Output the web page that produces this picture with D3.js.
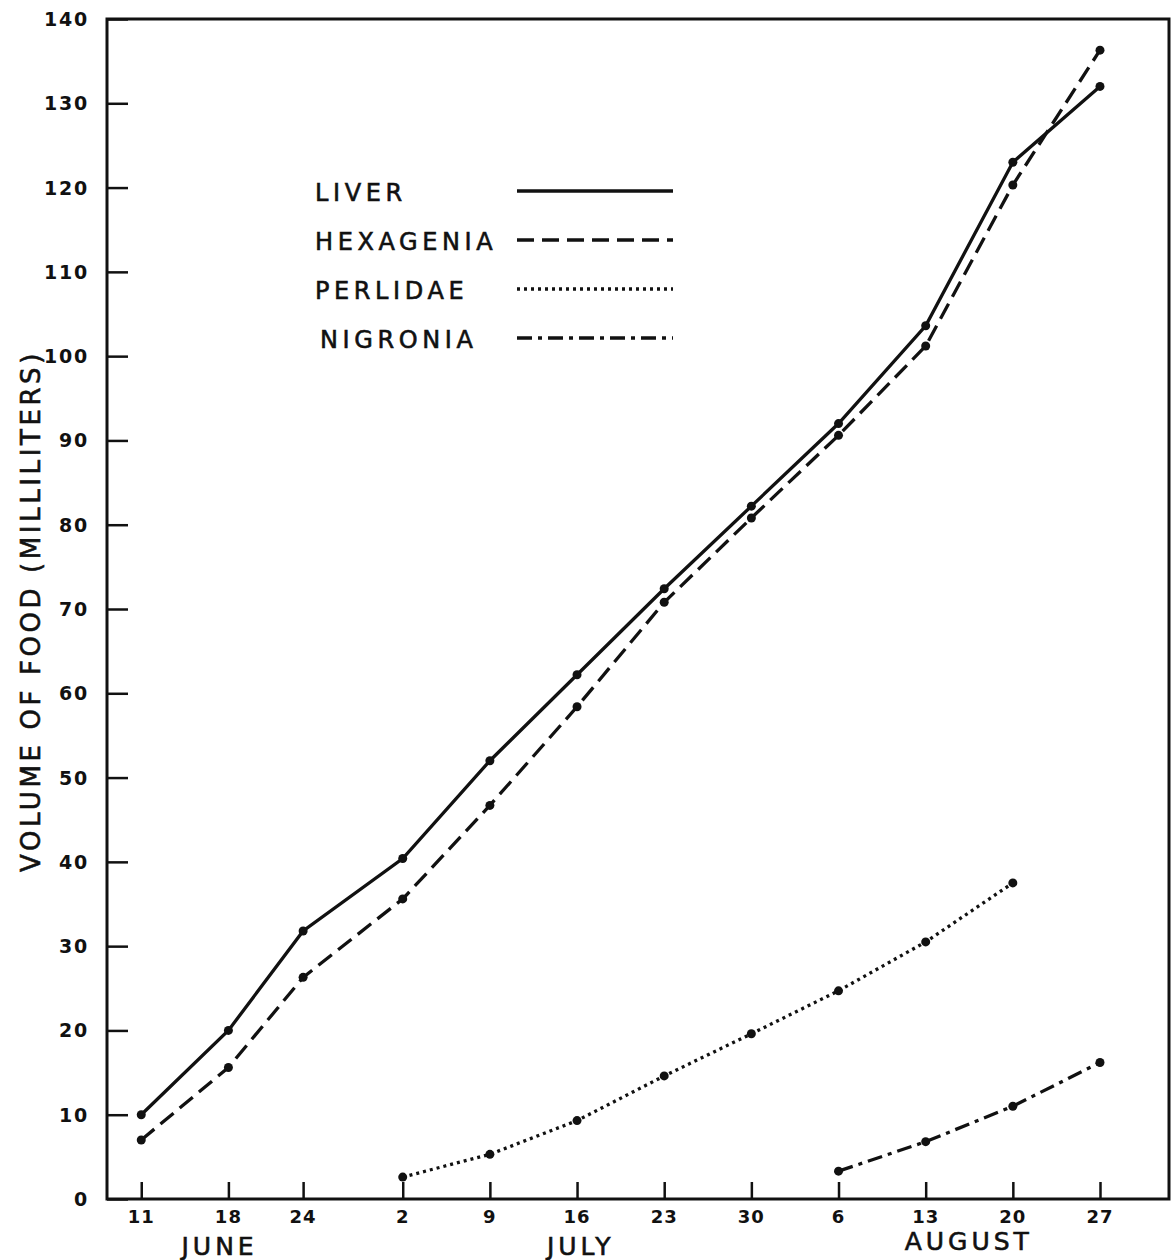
<!DOCTYPE html>
<html>
<head>
<meta charset="utf-8">
<script src="https://cdn.jsdelivr.net/npm/d3@7"></script>
<style>
  body { margin: 0; background: #fff; }
  svg text { font-family: "DejaVu Sans", sans-serif; fill: #111; }
</style>
</head>
<body>
<div id="chart"></div>
<script>
// sampling dates (1936 season) and volumes in ml
var dates = ["06-11", "06-18", "06-24", "07-02", "07-09", "07-16", "07-23", "07-30", "08-06", "08-13", "08-20", "08-27"];
var liver = [10, 20, 31.8, 40.4, 52, 62.2, 72.4, 82.2, 92, 103.6, 123, 132];
var hexagenia = [7, 15.6, 26.3, 35.6, 46.7, 58.4, 70.8, 80.8, 90.6, 101.2, 120.3, 136.3];
var perlidae = [null, null, null, 2.6, 5.3, 9.3, 14.6, 19.6, 24.7, 30.5, 37.5, null];
var nigronia = [null, null, null, null, null, null, null, null, 3.3, 6.8, 11, 16.2];
var yTicks = [0, 10, 20, 30, 40, 50, 60, 70, 80, 90, 100, 110, 120, 130, 140];
// month name, anchor date, shift in hours
var months = [["JUNE", "06-18", -17], ["JULY", "07-16", 7], ["AUGUST", "08-16", 11]];

var parse = d3.timeParse("%Y-%m-%d");
var days = dates.map(d => parse("1936-" + d));

var svgWidth = 1174, svgHeight = 1260;
var box = { left: 107, top: 19, right: 1169, bottom: 1199 };

var svg = d3.select("#chart").append("svg")
  .attr("width", svgWidth)
  .attr("height", svgHeight);

var x = d3.scaleTime()
  .domain([d3.timeHour.offset(days[0], -66), d3.timeHour.offset(days[days.length - 1], 133)])
  .range([box.left, box.right]);
var y = d3.scaleLinear()
  .domain([0, 140])
  .range([box.bottom, box.top]);

// frame
svg.append("rect")
  .attr("x", box.left).attr("y", box.top)
  .attr("width", box.right - box.left).attr("height", box.bottom - box.top)
  .attr("fill", "none").attr("stroke", "#111").attr("stroke-width", 3);

// y axis, ticks inward
var yAxis = svg.append("g")
  .attr("transform", `translate(${box.left},0)`)
  .call(d3.axisRight(y).tickValues(yTicks).tickSize(21).tickFormat(""));
yAxis.select(".domain").remove();
yAxis.selectAll("line").attr("stroke", "#111").attr("stroke-width", 2.5);

svg.append("g").selectAll("text")
  .data(yTicks)
  .enter()
  .append("text")
  .attr("x", 89)
  .attr("y", d => y(d) + 7)
  .attr("text-anchor", "end")
  .attr("font-size", 19)
  .attr("font-weight", "bold")
  .attr("letter-spacing", 1.8)
  .text(d => d);

// x axis, ticks inward
var xAxis = svg.append("g")
  .attr("transform", `translate(0,${box.bottom})`)
  .call(d3.axisTop(x).tickValues(days).tickSize(17).tickFormat(""));
xAxis.select(".domain").remove();
xAxis.selectAll("line").attr("stroke", "#111").attr("stroke-width", 2.5);

svg.append("g").selectAll("text")
  .data(days)
  .enter()
  .append("text")
  .attr("x", d => x(d))
  .attr("y", 1223)
  .attr("text-anchor", "middle")
  .attr("font-size", 18)
  .attr("font-weight", "bold")
  .attr("letter-spacing", 1)
  .text(d3.timeFormat("%-d"));

svg.append("g").selectAll("text")
  .data(months)
  .enter()
  .append("text")
  .attr("x", d => x(d3.timeHour.offset(parse("1936-" + d[1]), d[2])))
  .attr("y", d => d[0] === "AUGUST" ? 1250 : 1255)
  .attr("text-anchor", "middle")
  .attr("font-size", 25)
  .attr("letter-spacing", 4)
  .attr("stroke", "#111")
  .attr("stroke-width", 0.6)
  .text(d => d[0]);

// y axis title
svg.append("text")
  .attr("transform", "translate(40,611) rotate(-90)")
  .attr("text-anchor", "middle")
  .attr("font-size", 26)
  .attr("letter-spacing", 3.6)
  .attr("stroke", "#111")
  .attr("stroke-width", 0.6)
  .text("VOLUME OF FOOD (MILLILITERS)");

// series
var series = [
  { name: "LIVER", values: liver, dash: null },
  { name: "HEXAGENIA", values: hexagenia, dash: "17,8" },
  { name: "PERLIDAE", values: perlidae, dash: "3,4" },
  { name: "NIGRONIA", values: nigronia, dash: "15,6,4,6" }
];

var line = d3.line()
  .defined(d => d.v != null)
  .x(d => x(d.date))
  .y(d => y(d.v));

series.forEach(function(s) {
  var pts = days.map((d, i) => ({ date: d, v: s.values[i] }));
  svg.append("path")
    .datum(pts)
    .attr("d", line)
    .attr("fill", "none")
    .attr("stroke", "#111")
    .attr("stroke-width", 3.3)
    .attr("stroke-dasharray", s.dash);
  svg.append("g").selectAll("circle")
    .data(pts.filter(p => p.v != null))
    .enter()
    .append("circle")
    .attr("cx", p => x(p.date))
    .attr("cy", p => y(p.v))
    .attr("r", 4.5)
    .attr("fill", "#111");
});

// legend
var legend = svg.append("g");
series.forEach(function(s, i) {
  var ly = 192 + i * 49;
  legend.append("text")
    .attr("x", s.name === "NIGRONIA" ? 320 : 315)
    .attr("y", ly + 9)
    .attr("font-size", 24)
    .attr("letter-spacing", 4.6)
    .attr("stroke", "#111")
    .attr("stroke-width", 0.6)
    .text(s.name);
  legend.append("line")
    .attr("x1", 517).attr("x2", 673)
    .attr("y1", ly - 1).attr("y2", ly - 1)
    .attr("stroke", "#111")
    .attr("stroke-width", 3.3)
    .attr("stroke-dasharray", s.dash);
});
</script>
</body>
</html>
